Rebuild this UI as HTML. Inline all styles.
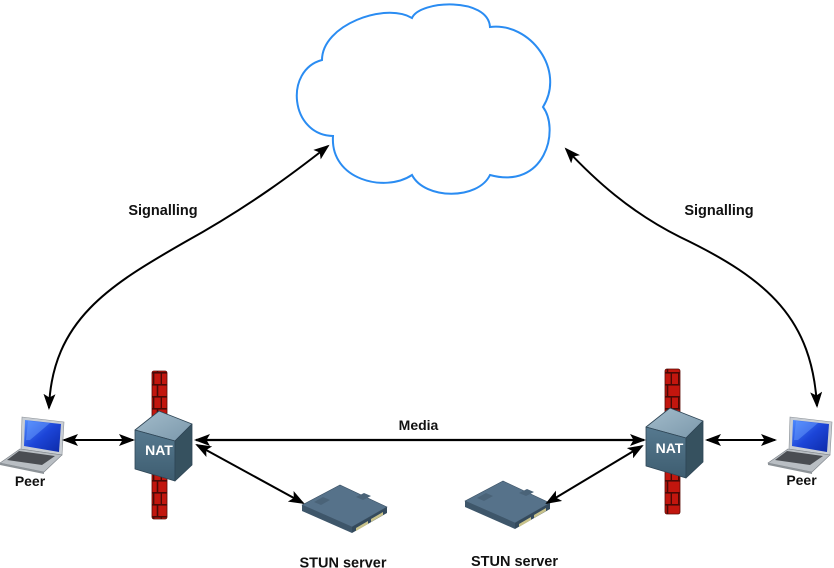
<!DOCTYPE html>
<html>
<head>
<meta charset="utf-8">
<style>
  html,body{margin:0;padding:0;background:#fff;}
  svg{display:block;}
  text{font-family:"Liberation Sans",Arial,sans-serif;font-weight:bold;}
</style>
</head>
<body>
<svg width="834" height="568" viewBox="0 0 834 568" xmlns="http://www.w3.org/2000/svg">
  <defs>
    <marker id="ah" markerUnits="userSpaceOnUse" markerWidth="17" markerHeight="12" refX="14" refY="6" orient="auto-start-reverse" viewBox="0 0 17 12">
      <path d="M0,0 L16,6 L0,12 L3.5,6 z" fill="#000"/>
    </marker>
    <pattern id="brick" patternUnits="userSpaceOnUse" width="15" height="24" x="0" y="0">
      <rect width="15" height="24" fill="#c2160e"/>
      <rect x="0" y="0" width="15" height="1.6" fill="#4a0a06"/>
      <rect x="0" y="12" width="15" height="1.6" fill="#4a0a06"/>
      <rect x="6.7" y="0" width="1.6" height="12" fill="#4a0a06"/>
      <rect x="3" y="12" width="1.4" height="12" fill="#4a0a06"/>
      <rect x="10.6" y="12" width="1.4" height="12" fill="#4a0a06"/>
    </pattern>
    <linearGradient id="scr" x1="0" y1="0" x2="1" y2="1">
      <stop offset="0" stop-color="#4f8cff"/>
      <stop offset="0.5" stop-color="#1c45d8"/>
      <stop offset="1" stop-color="#0d2aa8"/>
    </linearGradient>
    <linearGradient id="top" x1="0" y1="0" x2="1" y2="1">
      <stop offset="0" stop-color="#a3bccb"/>
      <stop offset="1" stop-color="#7b98ab"/>
    </linearGradient>
    <linearGradient id="front" x1="0" y1="0" x2="0" y2="1">
      <stop offset="0" stop-color="#56798f"/>
      <stop offset="1" stop-color="#3e5d70"/>
    </linearGradient>

    <g id="nat">
      <polygon points="646,427 670,408 703,421 686,438" fill="url(#top)" stroke="#2f4656" stroke-width="0.8" stroke-linejoin="round"/>
      <polygon points="646,427 686,438 686,478 646,466" fill="url(#front)" stroke="#2f4656" stroke-width="0.8" stroke-linejoin="round"/>
      <polygon points="686,438 703,421 703,462 686,478" fill="#36515f" stroke="#2f4656" stroke-width="0.8" stroke-linejoin="round"/>
    </g>

    <g id="laptop">
      <polygon points="22,417 64,422 62,455 21,449" fill="#c9ced4" stroke="#8a9096" stroke-width="0.6"/>
      <polygon points="25,420 61,424 59,452 24,446" fill="url(#scr)"/>
      <polygon points="28,421 50,423 30,440 26,440" fill="#6fa2ff" opacity="0.45"/>
      <polygon points="20,449 62,455 44,472 0,463" fill="#b9bec3" stroke="#7c8288" stroke-width="0.6"/>
      <polygon points="19,451 55,456 42,465 7,460" fill="#4a4d52"/>
      <polygon points="0,463 44,472 44,474 0,465" fill="#8d9398"/>
    </g>

    <g id="stun">
      <polygon points="302,505 340,485 387,507 352,527" fill="#56728a" stroke="#3a5064" stroke-width="0.6"/>
      <polygon points="302,505 352,527 352,533 302,511" fill="#3e566a"/>
      <polygon points="352,527 387,507 387,513 352,533" fill="#344a5c"/>
      <polygon points="356,528 368,521 368,524 356,531" fill="#c8c28a"/>
      <polygon points="371,519 383,512 383,515 371,522" fill="#c8c28a"/>
      <polygon points="314,502 323,497 330,500 321,505" fill="#4a6378"/>
      <polygon points="356,497 364,493 371,496 363,500" fill="#4a6378"/>
    </g>
  </defs>

  <!-- Cloud -->
  <path d="M322,60 C 322,25 385,2 412,18 C 420,0 488,-3 490,27 C 530,22 566,70 543,107 C 560,130 545,190 490,175 C 478,200 425,200 412,175 C 385,193 330,180 333,136 C 290,135 284,70 322,60 Z"
        fill="#fff" stroke="#2a8cf2" stroke-width="2"/>

  <!-- Signalling curves -->
  <path d="M49,408 C 52,320 110,285 185,242 C 250,206 295,172 328,146" fill="none" stroke="#000" stroke-width="2" marker-start="url(#ah)" marker-end="url(#ah)"/>
  <path d="M817,406 C 812,320 770,280 680,237 C 630,212 595,180 566,149" fill="none" stroke="#000" stroke-width="2" marker-start="url(#ah)" marker-end="url(#ah)"/>

  <text x="163" y="215" font-size="14.5" text-anchor="middle" fill="#111">Signalling</text>
  <text x="719" y="215" font-size="14.5" text-anchor="middle" fill="#111">Signalling</text>

  <!-- Firewalls -->
  <rect x="152" y="371" width="15" height="148" rx="2" fill="url(#brick)" stroke="#5a0b06" stroke-width="0.8"/>
  <rect x="665" y="369" width="15" height="145" rx="2" fill="url(#brick)" stroke="#5a0b06" stroke-width="0.8"/>

  <!-- NAT boxes -->
  <use href="#nat" transform="translate(-511,3)"/>
  <use href="#nat"/>
  <text x="159" y="455" font-size="14" text-anchor="middle" fill="#fff">NAT</text>
  <text x="669.5" y="453" font-size="14" text-anchor="middle" fill="#fff">NAT</text>

  <!-- Laptops -->
  <use href="#laptop"/>
  <use href="#laptop" transform="translate(768,0)"/>
  <text x="30" y="486" font-size="14" text-anchor="middle" fill="#111">Peer</text>
  <text x="801.5" y="485" font-size="14" text-anchor="middle" fill="#111">Peer</text>

  <!-- STUN servers -->
  <use href="#stun"/>
  <use href="#stun" transform="translate(163,-4)"/>
  <text x="343" y="567.5" font-size="14.5" text-anchor="middle" fill="#111">STUN server</text>
  <text x="514.5" y="566" font-size="14.5" text-anchor="middle" fill="#111">STUN server</text>

  <!-- Straight connectors -->
  <line x1="64" y1="440" x2="133" y2="440" stroke="#000" stroke-width="2" marker-start="url(#ah)" marker-end="url(#ah)"/>
  <line x1="707" y1="440" x2="775" y2="440" stroke="#000" stroke-width="2" marker-start="url(#ah)" marker-end="url(#ah)"/>
  <line x1="196" y1="440" x2="644" y2="440" stroke="#000" stroke-width="2.2" marker-start="url(#ah)" marker-end="url(#ah)"/>
  <text x="418.5" y="430" font-size="14" text-anchor="middle" fill="#111">Media</text>
  <line x1="197" y1="445" x2="303" y2="503" stroke="#000" stroke-width="2" marker-start="url(#ah)" marker-end="url(#ah)"/>
  <line x1="547" y1="503" x2="642" y2="446" stroke="#000" stroke-width="2" marker-start="url(#ah)" marker-end="url(#ah)"/>
</svg>
</body>
</html>
